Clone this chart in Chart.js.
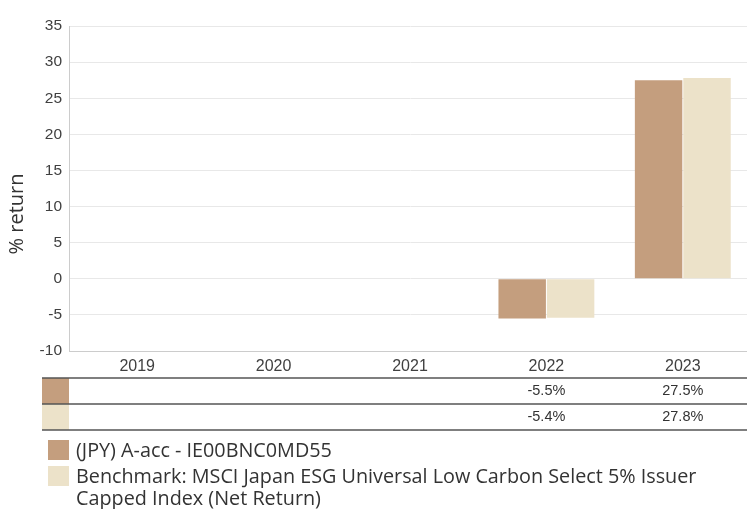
<!DOCTYPE html>
<html>
<head>
<meta charset="utf-8">
<script src="https://cdn.jsdelivr.net/npm/chart.js@4.4.7/dist/chart.umd.min.js"></script>
<style>
  html, body { margin: 0; padding: 0; background: #fff; overflow: hidden; }
  #wrap { width: 747px; height: 509px; position: relative; overflow: hidden; }
</style>
</head>
<body>
<div id="wrap"><canvas id="chart" width="751" height="509"></canvas></div>
<script>
// Calendar-year performance data
const years = ['2019', '2020', '2021', '2022', '2023'];
const fundReturns = [null, null, null, -5.5, 27.5];
const benchReturns = [null, null, null, -5.4, 27.8];
const fundLabel = '(JPY) A-acc - IE00BNC0MD55';
const benchLabel = ['Benchmark: MSCI Japan ESG Universal Low Carbon Select 5% Issuer', 'Capped Index (Net Return)'];
const yTitle = '% return';

const fundColor = '#c49e7e';
const benchColor = '#ece2c9';
const txt = '#404040';
const axisFont = "'Liberation Sans', Arial, sans-serif";
const legendFont = "'Open Sans', 'Noto Sans', sans-serif";

// Draws the y title, the value table under the axis and the legend
const extras = {
    id: 'extras',
    afterDraw(chart) {
        const ctx = chart.ctx;
        const x = chart.scales.x;
        ctx.save();

        // y axis title
        ctx.translate(17, 214);
        ctx.rotate(-Math.PI / 2);
        ctx.fillStyle = '#333';
        ctx.font = "20px " + legendFont;
        ctx.textAlign = 'center';
        ctx.textBaseline = 'middle';
        ctx.fillText(yTitle, 0, 0);
        ctx.restore();

        // table
        ctx.save();
        const rows = [
            { color: fundColor, data: fundReturns, top: 378 },
            { color: benchColor, data: benchReturns, top: 404 }
        ];
        rows.forEach(r => {
            ctx.fillStyle = r.color;
            ctx.fillRect(42, r.top, 27, 26);
            ctx.fillStyle = '#333';
            ctx.font = "14.5px " + axisFont;
            ctx.textAlign = 'center';
            ctx.textBaseline = 'middle';
            r.data.forEach((v, i) => {
                if (v === null) return;
                ctx.fillText(v.toFixed(1) + '%', x.getPixelForValue(i), r.top + 13);
            });
        });
        ctx.strokeStyle = '#555';
        ctx.lineWidth = 1.5;
        [378, 404, 430].forEach(y => {
            ctx.beginPath();
            ctx.moveTo(42, y);
            ctx.lineTo(751, y);
            ctx.stroke();
        });

        // legend
        ctx.fillStyle = fundColor;
        ctx.fillRect(48, 440, 21, 20);
        ctx.fillStyle = benchColor;
        ctx.fillRect(48, 466, 21, 20);
        ctx.fillStyle = '#333';
        ctx.font = "19.8px " + legendFont;
        ctx.textAlign = 'left';
        ctx.textBaseline = 'alphabetic';
        ctx.fillText(fundLabel, 76, 457);
        ctx.fillText(benchLabel[0], 76, 483);
        ctx.fillText(benchLabel[1], 76, 505);
        ctx.restore();
    }
};

new Chart(document.getElementById('chart'), {
    type: 'bar',
    data: {
        labels: years,
        datasets: [{
            label: fundLabel,
            data: fundReturns,
            backgroundColor: fundColor,
            borderWidth: 0
        }, {
            label: benchLabel.join(' '),
            data: benchReturns,
            backgroundColor: benchColor,
            borderWidth: 0
        }]
    },
    options: {
        responsive: false,
        animation: false,
        categoryPercentage: 0.71,
        barPercentage: 0.98,
        layout: { padding: { top: 26, right: 0, left: 0, bottom: 133 } },
        plugins: { legend: { display: false }, tooltip: { enabled: false } },
        scales: {
            x: {
                grid: { display: false, drawTicks: false },
                border: { color: '#cccccc', width: 1 },
                ticks: { color: txt, font: { family: axisFont, size: 16 }, padding: 6 },
                afterFit: s => { s.height = 25; }
            },
            y: {
                min: -10,
                max: 35,
                ticks: { stepSize: 5, color: txt, font: { family: axisFont, size: 15.5 }, padding: 7 },
                grid: { color: '#e8e8e8', drawTicks: false },
                border: { color: '#cccccc', width: 1 },
                afterFit: s => { s.width = 69; }
            }
        }
    },
    plugins: [extras]
});
</script>
</body>
</html>
